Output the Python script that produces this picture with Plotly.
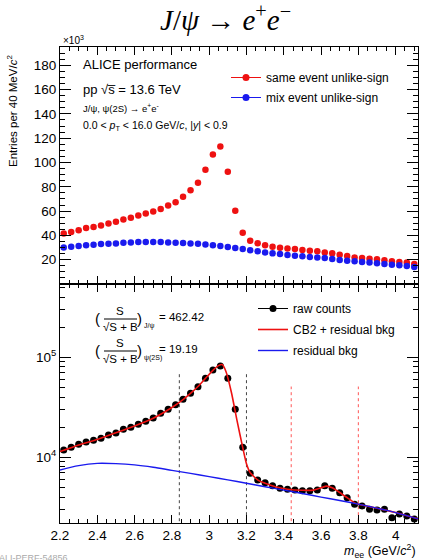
import plotly.graph_objects as go

# ---------------- data ----------------
mass = [2.22, 2.26, 2.30, 2.34, 2.38, 2.42, 2.46, 2.50, 2.54, 2.58,
        2.62, 2.66, 2.70, 2.74, 2.78, 2.82, 2.86, 2.90, 2.94, 2.98,
        3.02, 3.06, 3.10, 3.14, 3.18, 3.22, 3.26, 3.30, 3.34, 3.38,
        3.42, 3.46, 3.50, 3.54, 3.58, 3.62, 3.66, 3.70, 3.74, 3.78,
        3.82, 3.86, 3.90, 3.94, 3.98, 4.02, 4.06, 4.10]

# top panel, in units of 10^3 entries
same_event = [41.6, 42.7, 44.3, 46.0, 46.8, 48.2, 49.8, 51.2, 53.1, 54.5,
              56.4, 58.0, 59.6, 61.8, 64.6, 67.3, 71.7, 77.1, 83.4, 94.1,
              106.6, 113.2, 92.4, 60.3, 42.1, 35.6, 33.5, 31.8, 30.7, 29.9,
              29.3, 28.8, 28.0, 27.4, 26.9, 26.0, 25.2, 24.1, 23.0, 21.9,
              21.4, 20.8, 20.3, 19.5, 18.7, 18.1, 17.6, 16.5]
mix_event = [30.1, 30.7, 31.2, 31.8, 32.3, 32.9, 33.1, 33.4, 34.0, 34.2,
             34.5, 34.5, 34.5, 34.5, 34.2, 34.0, 33.7, 33.4, 33.1, 32.6,
             31.8, 31.2, 30.4, 29.6, 28.8, 27.7, 26.9, 26.0, 25.2, 24.7,
             23.9, 23.3, 22.8, 22.2, 21.9, 21.4, 20.6, 19.8, 19.2, 18.7,
             18.1, 17.6, 17.0, 16.5, 15.9, 15.4, 14.8, 14.0]

# bottom panel: raw counts
raw_counts = [11800, 12600, 13500, 14200, 14800, 15500, 16700, 17500, 19050, 19950,
              21400, 22900, 24700, 27500, 30200, 33600, 38000, 43650, 50800, 61700,
              74600, 81900, 61700, 30200, 12600, 6920, 5930, 5570, 5200, 4900,
              4790, 4710, 4630, 4630, 4710, 5200, 4900, 4430, 3950, 3390,
              3260, 3020, 2970, 3020, 2490, 2710, 2590, 2415]

# fitted curves
fit_mass = [2.20, 2.30, 2.40, 2.50, 2.60, 2.70, 2.80, 2.86, 2.90, 2.94,
            2.98, 3.02, 3.05, 3.07, 3.09, 3.12, 3.15, 3.18, 3.20, 3.22,
            3.26, 3.30, 3.36, 3.42, 3.50, 3.56, 3.60, 3.63, 3.66, 3.70,
            3.74, 3.78, 3.80, 3.90, 4.00, 4.12]
fit_total = [11400, 13300, 15100, 17600, 20600, 24600, 31500, 37800, 43500, 51000,
             61500, 74000, 82500, 84500, 72000, 44000, 23000, 12500, 8600, 7000,
             5950, 5500, 5050, 4800, 4680, 4700, 4950, 5150, 4950, 4450,
             3950, 3500, 3390, 3100, 2800, 2420]

bkg_mass = [2.20, 2.30, 2.40, 2.50, 2.60, 2.70, 2.80, 2.90, 3.00, 3.10,
            3.20, 3.30, 3.40, 3.50, 3.60, 3.70, 3.80, 3.90, 4.00, 4.12]
bkg_resid = [7450, 8250, 8700, 8650, 8400, 7950, 7400, 6900, 6400, 5950,
             5500, 5080, 4700, 4350, 4000, 3700, 3400, 3100, 2800, 2420]

jpsi_window = [2.84, 3.20]
psi2s_window = [3.44, 3.80]
jpsi_line_top = 72000
psi2s_line_top = 51000
window_bottom = 2000

x_ticks = [2.2, 2.4, 2.6, 2.8, 3.0, 3.2, 3.4, 3.6, 3.8, 4.0]
x_tick_text = ["2.2", "2.4", "2.6", "2.8", "3", "3.2", "3.4", "3.6", "3.8", "4"]
top_y_ticks = [20, 40, 60, 80, 100, 120, 140, 160, 180]
log_ticks = [1e4, 1e5]
log_tick_text = ["10<sup>4</sup>", "10<sup>5</sup>"]
log_minor = [2e3, 3e3, 4e3, 5e3, 6e3, 7e3, 8e3, 9e3,
             2e4, 3e4, 4e4, 5e4, 6e4, 7e4, 8e4, 9e4,
             2e5, 3e5, 4e5, 5e5]

# ---------------- geometry ----------------
W, H = 421, 560
L, R, T, B = 60, 3, 47, 37
PW, PH = W - L - R, H - T - B


def px(x):
    return (x - L) / PW


def py(y):
    return (H - B - y) / PH


split = py(284)
FONT = "Liberation Sans, Arial, sans-serif"
RED = "#ee1111"
BLUE = "#1a1aee"

fig = go.Figure()

# ---- top panel ----
fig.add_trace(go.Scatter(x=mass, y=same_event, mode="markers", xaxis="x", yaxis="y",
                         marker=dict(color=RED, size=6.5), showlegend=False))
fig.add_trace(go.Scatter(x=mass, y=mix_event, mode="markers", xaxis="x", yaxis="y",
                         marker=dict(color=BLUE, size=6.5), showlegend=False))
fig.add_trace(go.Scatter(x=[None], y=[None], mode="lines+markers", xaxis="x", yaxis="y",
                         name="same event unlike-sign", legend="legend", legendgroup="a",
                         marker=dict(color=RED, size=7), line=dict(color=RED, width=1)))
fig.add_trace(go.Scatter(x=[None], y=[None], mode="lines+markers", xaxis="x", yaxis="y",
                         name="mix event unlike-sign", legend="legend", legendgroup="b",
                         marker=dict(color=BLUE, size=7), line=dict(color=BLUE, width=1)))

# ---- bottom panel ----
for v in jpsi_window:
    fig.add_trace(go.Scatter(x=[v, v], y=[window_bottom, jpsi_line_top], mode="lines",
                             xaxis="x2", yaxis="y2", showlegend=False,
                             line=dict(color="#444444", width=1, dash="dot")))
for v in psi2s_window:
    fig.add_trace(go.Scatter(x=[v, v], y=[window_bottom, psi2s_line_top], mode="lines",
                             xaxis="x2", yaxis="y2", showlegend=False,
                             line=dict(color="#ff5555", width=1, dash="dot")))

fig.add_trace(go.Scatter(x=mass, y=raw_counts, mode="markers", xaxis="x2", yaxis="y2",
                         marker=dict(color="black", size=7), showlegend=False))
fig.add_trace(go.Scatter(x=[None], y=[None], mode="lines+markers", xaxis="x2", yaxis="y2",
                         name="raw counts", legend="legend2", legendgroup="c",
                         marker=dict(color="black", size=7), line=dict(color="black", width=1)))
fig.add_trace(go.Scatter(x=fit_mass, y=fit_total, mode="lines", xaxis="x2", yaxis="y2",
                         name="CB2 + residual bkg", legend="legend2", legendgroup="d",
                         line=dict(color=RED, width=1.6, shape="spline", smoothing=0.5)))
fig.add_trace(go.Scatter(x=bkg_mass, y=bkg_resid, mode="lines", xaxis="x2", yaxis="y2",
                         name="residual bkg", legend="legend2", legendgroup="e",
                         line=dict(color=BLUE, width=1.4, shape="spline", smoothing=0.8)))

axis_common = dict(showline=True, linecolor="black", linewidth=1, mirror="allticks",
                   ticks="inside", tickcolor="black", showgrid=False, zeroline=False,
                   tickfont=dict(family=FONT, size=13.5, color="black"))

fig.update_layout(
    width=W, height=H, autosize=False,
    margin=dict(l=L, r=R, t=T, b=B, autoexpand=False),
    paper_bgcolor="white", plot_bgcolor="white",
    font=dict(family=FONT, color="black"),
    xaxis=dict(axis_common, domain=[0, 1], anchor="y", range=[2.2, 4.12],
               tickvals=x_ticks, showticklabels=False, ticklen=8,
               minor=dict(dtick=0.05, tick0=2.2, ticks="inside", ticklen=4, tickcolor="black")),
    yaxis=dict(axis_common, domain=[split, 1], anchor="x", range=[0, 195],
               tickvals=top_y_ticks, ticklen=11,
               minor=dict(dtick=5, tick0=0, ticks="inside", ticklen=5, tickcolor="black")),
    xaxis2=dict(axis_common, domain=[0, 1], anchor="y2", range=[2.2, 4.12], matches="x",
                tickvals=x_ticks, ticktext=x_tick_text, ticklen=8,
                minor=dict(dtick=0.05, tick0=2.2, ticks="inside", ticklen=4, tickcolor="black")),
    yaxis2=dict(axis_common, domain=[0, split], anchor="x2", type="log",
                range=[3.343, 5.733], tickvals=log_ticks, ticktext=log_tick_text, ticklen=11,
                minor=dict(tickvals=log_minor, ticks="inside", ticklen=5, tickcolor="black")),
    legend=dict(x=px(226), y=py(63), xanchor="left", yanchor="top",
                bgcolor="rgba(0,0,0,0)", font=dict(family=FONT, size=12),
                itemwidth=30, tracegroupgap=1),
    legend2=dict(x=px(253), y=py(294), xanchor="left", yanchor="top",
                 bgcolor="rgba(0,0,0,0)", font=dict(family=FONT, size=12),
                 itemwidth=30, tracegroupgap=2),
)

ann = []


def text(x, y, s, size, anchor="left", color="black", family=FONT, angle=0):
    ann.append(dict(x=px(x), y=py(y), xref="paper", yref="paper", text=s, showarrow=False,
                    xanchor=anchor, yanchor="middle", textangle=angle,
                    font=dict(family=family, size=size, color=color)))


# title
text(225, 18, "<i>J</i>/<i>ψ</i> → <i>e</i><sup>+</sup><i>e</i><sup>−</sup>", 29,
     anchor="center", family="Liberation Serif, DejaVu Serif, serif")
# exponent label
text(61, 40, "×10<sup>3</sup>", 10)
# y title
text(12, 111, "Entries per 40 MeV/<i>c</i><sup>2</sup>", 11.5, anchor="center", angle=-90)
# x title
text(418, 551, "<i>m</i><sub>ee</sub> (GeV/<i>c</i><sup>2</sup>)", 12.5, anchor="right")
# top panel labels
text(81, 65, "ALICE performance", 13)
text(81, 89, "pp √s\u0305 = 13.6 TeV", 13)
text(81, 108, "J/ψ, ψ(2S) → e<sup>+</sup>e<sup>-</sup>", 9.5)
text(81, 126, "0.0 &lt; <i>p</i><sub>T</sub> &lt; 16.0 GeV/<i>c</i>, |<i>y</i>| &lt; 0.9", 10.5)
# significance fractions
shapes = []
for dy, sub, val in [(0, "J/ψ", "= 462.42"), (32, "ψ(2S)", "= 19.19")]:
    text(97, 318 + dy, "(", 15, anchor="center")
    text(120, 311 + dy, "S", 11.5, anchor="center")
    text(120, 327 + dy, "√S + B", 11.5, anchor="center")
    text(139, 318 + dy, ")", 15, anchor="center")
    text(142, 326 + dy, sub, 7)
    text(157, 317 + dy, val, 11.5)
    shapes.append(dict(type="line", xref="paper", yref="paper",
                       x0=px(104), x1=px(137), y0=py(319 + dy), y1=py(319 + dy),
                       line=dict(color="black", width=1)))
# figure id
text(-3, 558, "ALI-PERF-54856", 9, color="#aaaaaa")

fig.update_layout(annotations=ann, shapes=shapes)
fig.write_html("out.html", config={"displayModeBar": False},
               post_script="document.body.style.margin='0';document.body.style.padding='0';"
                           "document.body.style.overflow='hidden';")
